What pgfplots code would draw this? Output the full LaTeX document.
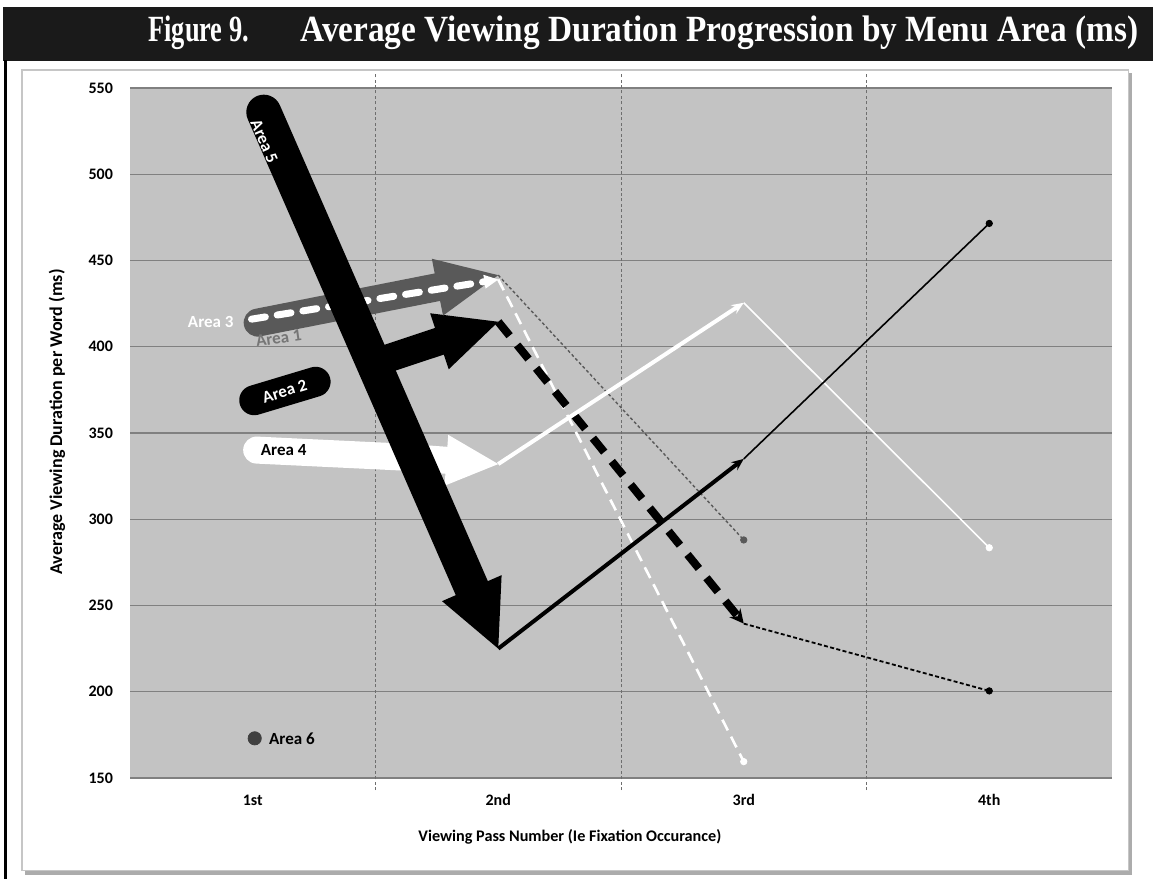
\documentclass[border=0pt]{standalone}
\usepackage{fontspec}
\setmainfont{Carlito}
\newfontfamily\titlefont{Liberation Serif}
\usepackage{pgfplots}
\pgfplotsset{compat=1.18}
\usetikzlibrary{arrows.meta}
\definecolor{plotbg}{RGB}{195,195,195}
\definecolor{gridc}{RGB}{128,128,128}
\definecolor{sepc}{RGB}{110,110,110}
\definecolor{areaonec}{RGB}{89,89,89}
\definecolor{areaonetxt}{RGB}{118,118,118}
\definecolor{areasix}{RGB}{64,64,64}
\definecolor{titlebg}{RGB}{26,26,26}
\begin{document}
\begin{tikzpicture}
\path[use as bounding box] (0,0) rectangle (576.5pt,-439.5pt);
\begin{scope}[x=0.5pt,y=-0.5pt]
\fill[titlebg] (3,7) rectangle (1153,61);
\draw[black, line width=1.3pt] (5.5,60) -- (5.5,879);
\fill[gray!65] (25,73) rectangle (1132,875);
\filldraw[fill=white, draw=gray!45, line width=0.6pt] (22,70) rectangle (1128.5,870.5);
\node[anchor=base west, inner sep=0pt, text=white, font=\titlefont\bfseries\fontsize{16.5}{18}\selectfont] at (148,41) {\scalebox{0.8}[1.12]{Figure 9.}};
\node[anchor=base west, inner sep=0pt, text=white, font=\titlefont\bfseries\fontsize{16.5}{18}\selectfont] at (300,41) {\scalebox{1.01}[1.12]{Average Viewing Duration Progression by Menu Area (ms)}};
\end{scope}
\begin{axis}[
  at={(65pt,-389pt)}, anchor=south west,
  scale only axis, width=491pt, height=345pt,
  xmin=0.5, xmax=4.5, ymin=150, ymax=550,
  clip=false,
  axis line style={draw=none},
  axis background/.style={fill=plotbg},
  ytick={150,200,...,550},
  xtick={1,2,3,4}, xticklabels={1st,2nd,3rd,4th},
  major tick length=0pt,
  ymajorgrids, grid style={draw=gridc, line width=0.7pt},
  /pgf/number format/assume math mode=true,
  ticklabel style={font=\bfseries\fontsize{8}{9}\selectfont},
  yticklabel style={anchor=east, xshift=-5pt},
  xticklabel style={anchor=center, yshift=-11pt},
  xlabel={Viewing Pass Number (Ie Fixation Occurance)},
  ylabel={Average Viewing Duration per Word (ms)},
  xlabel style={font=\bfseries\fontsize{8.1}{9}\selectfont, at={(axis description cs:0.448,-0.0855)}, anchor=center},
  ylabel style={font=\bfseries\fontsize{9}{10}\selectfont, at={(axis description cs:-0.0743,0.516)}, anchor=center},
]
% category separators
\draw[sepc, line width=0.5pt, dash pattern=on 1.5pt off 1.2pt] (axis cs:1.5,143) -- (axis cs:1.5,559);
\draw[sepc, line width=0.5pt, dash pattern=on 1.5pt off 1.2pt] (axis cs:2.5,143) -- (axis cs:2.5,559);
\draw[sepc, line width=0.5pt, dash pattern=on 1.5pt off 1.2pt] (axis cs:3.5,143) -- (axis cs:3.5,559);

% ---- later passes ----
% Area 1
\addplot[areaonec, line width=0.7pt, dash pattern=on 1.5pt off 1.2pt] coordinates {(2,441.5) (3,288)};
\addplot[only marks, mark=*, mark size=1.6pt, mark options={fill=areaonec, draw=areaonec}] coordinates {(3,288)};
% Area 3
\addplot[white, line width=1.3pt, dash pattern=on 6pt off 3.5pt] coordinates {(2,439) (3,159.5)};
\addplot[only marks, mark=*, mark size=1.6pt, mark options={fill=white, draw=white}] coordinates {(3,159.5)};
% Area 2
\addplot[black, line width=4pt, dash pattern=on 9pt off 6pt, -{Stealth[length=7pt,width=7pt]}] coordinates {(2,414.5) (3,239.5)};
\addplot[black, line width=0.9pt, dash pattern=on 2pt off 1.2pt] coordinates {(3,239.5) (4,200.5)};
\addplot[only marks, mark=*, mark size=1.6pt, mark options={fill=black, draw=black}] coordinates {(4,200.5)};
% Area 4
\addplot[white, line width=2pt, -{Stealth[length=6pt,width=5pt]}] coordinates {(2,332) (3,425.5)};
\addplot[white, line width=0.8pt] coordinates {(3,425.5) (4,283.5)};
\addplot[only marks, mark=*, mark size=1.6pt, mark options={fill=white, draw=white}] coordinates {(4,283.5)};
% Area 5
\addplot[black, line width=2pt, -{Stealth[length=6pt,width=5pt]}] coordinates {(2,225) (3,335)};
\addplot[black, line width=0.8pt] coordinates {(3,335) (4,471.5)};
\addplot[only marks, mark=*, mark size=1.6pt, mark options={fill=black, draw=black}] coordinates {(4,471.5)};

% ---- first-to-second pass block arrows ----
% Area 4
\addplot[white, line width=13.5pt, line cap=round, line join=round, -{Triangle[length=26pt,width=25.5pt,line width=0pt]}] coordinates {(1.016,340.1) (1.604,336.1) (2,332)};
% Area 2
\addplot[black, line width=15pt, line cap=round] coordinates {(1.006,369) (1.256,379.7)};
\addplot[black, line width=14pt, line cap=round, -{Triangle[length=31pt,width=29.5pt,line width=0pt]}] coordinates {(1.49,390.4) (2,414.5)};
% Area 1
\addplot[areaonec, line width=14pt, line cap=round, -{Triangle[length=31pt,width=29pt,line width=0pt]}] coordinates {(1.02,414) (2,441.5)};
% Area 3
\addplot[white, line width=3.5pt, line cap=round, dash pattern=on 7pt off 6pt, -{Triangle[length=7pt,width=7pt,line width=0pt]}] coordinates {(0.995,416) (2,439)};
% Area 5
\addplot[black, line width=17.5pt, line cap=round, -{Triangle[length=33pt,width=32.5pt,line width=0pt]}] coordinates {(1.045,536) (2,225)};
% Area 6
\addplot[only marks, mark=*, mark size=3.3pt, mark options={fill=areasix, draw=areasix}] coordinates {(1.008,173)};

% ---- labels ----
\node[rotate=-66.4, text=white, inner sep=0pt, font=\bfseries\fontsize{8.5}{10}\selectfont] at (axis cs:1.047,519) {Area 5};
\node[text=white, font=\bfseries\fontsize{8.5}{10}\selectfont] at (axis cs:0.829,414.3) {Area 3};
\node[rotate=8, text=areaonetxt, font=\bfseries\fontsize{8.5}{10}\selectfont] at (axis cs:1.106,405.1) {Area 1};
\node[rotate=17, text=white, font=\bfseries\fontsize{8.5}{10}\selectfont] at (axis cs:1.13,374.3) {Area 2};
\node[text=black, font=\bfseries\fontsize{8.5}{10}\selectfont] at (axis cs:1.126,340.1) {Area 4};
\node[anchor=west, inner sep=0pt, text=black, font=\bfseries\fontsize{8.5}{10}\selectfont] at (axis cs:1.065,173) {Area 6};
\end{axis}
\end{tikzpicture}
\end{document}
